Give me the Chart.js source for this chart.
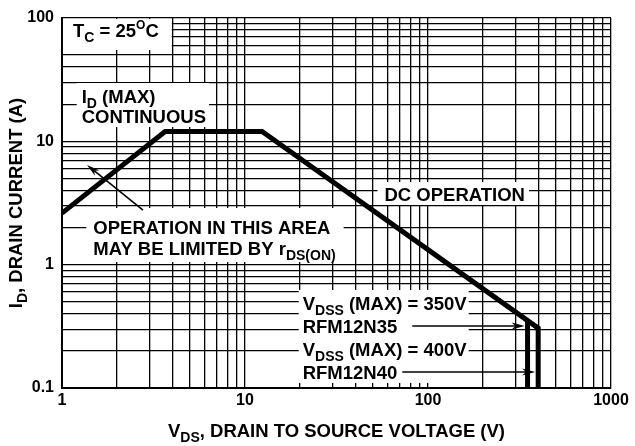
<!DOCTYPE html>
<html>
<head>
<meta charset="utf-8">
<script src="https://cdn.jsdelivr.net/npm/chart.js@4/dist/chart.umd.min.js"></script>
<style>
  html, body { margin: 0; padding: 0; background: #fff; }
</style>
</head>
<body>
<canvas id="soa" width="635" height="446"></canvas>
<script>
// grid lines (log decades) and the labelled ones
const gridVolts = [1, 2, 3, 4, 5, 6, 7, 8, 9, 10, 20, 30, 40, 50, 60, 70, 80, 90,
  100, 200, 300, 400, 500, 600, 700, 800, 900, 1000]
const gridAmps = [0.1, 0.2, 0.3, 0.4, 0.5, 0.6, 0.7, 0.8, 0.9, 1, 2, 3, 4, 5, 6, 7, 8, 9,
  10, 20, 30, 40, 50, 60, 70, 80, 90, 100]
const voltLabels = ['1', '10', '100', '1000']
const ampLabels = ['0.1', '1', '10', '100']

// safe operating area boundary (RFM12N40) and the 350V device cut-off
const soaVolts = [1, 3.66, 12.4, 400, 400]
const soaAmps = [2.62, 12, 12, 0.306, 0.1]
const n35Volts = [350, 350]
const n35Amps = [0.352, 0.1]

const FONT = '"Liberation Sans", Arial, Helvetica, sans-serif'

// text notes, placed in volts / amps; pad = [left, top, right, bottom]
const notes = [
  { x: 1.148, align: 'left', pad: [10, 4, 13, 13], lines: [{ t: 'T_{C} = 25^{O}C', y: 80 }] },
  { x: 1.281, align: 'left', pad: [5, 6, 3, 4], lines: [{ t: 'I_{D} (MAX)', y: 23.3 }, { t: 'CONTINUOUS', y: 16.05 }] },
  { x: 1.483, align: 'left', pad: [7, 12, 8, 7], lines: [
    { t: 'OPERATION IN THIS AREA', y: 2.02 },
    { t: 'MAY BE LIMITED BY r_{DS(ON)}', y: 1.365 }] },
  { x: 140, align: 'center', pad: [7, 5, 4, 4], lines: [{ t: 'DC OPERATION', y: 3.74 }] },
  { x: 162.7, align: 'right', pad: [4, 6, 2, 4], lines: [
    { t: 'V_{DSS} (MAX) = 350V', y: 0.489 },
    { t: 'RFM12N35', y: 0.318, arrowTo: 350, gap: 15 },
    { t: 'V_{DSS} (MAX) = 400V', y: 0.207 },
    { t: 'RFM12N40', y: 0.135, arrowTo: 400, gap: 5 }] }
]
const areaArrow = { from: [2.77, 2.77], to: [1.37, 6.43] }

function parts(t) {
  const out = []
  const re = /([_^])\{([^}]*)\}/g
  let last = 0, m
  while ((m = re.exec(t))) {
    if (m.index > last) out.push([t.slice(last, m.index), 0])
    out.push([m[2], m[1] === '_' ? 1 : -1])
    last = re.lastIndex
  }
  if (last < t.length) out.push([t.slice(last), 0])
  return out
}
function setFont(ctx, k) {
  ctx.font = 'bold ' + (k === 0 ? 18.5 : k === 1 ? 14 : 12) + 'px ' + FONT
}
function richWidth(ctx, t) {
  let w = 0
  for (const [s, k] of parts(t)) { setFont(ctx, k); w += ctx.measureText(s).width }
  return w
}
function drawRich(ctx, t, x, cy) {
  const base = cy + 7
  for (const [s, k] of parts(t)) {
    setFont(ctx, k)
    ctx.fillText(s, x, base + (k === 1 ? 5 : k === -1 ? -8 : 0))
    x += ctx.measureText(s).width
  }
}
function arrow(ctx, x1, y1, x2, y2) {
  const a = Math.atan2(y2 - y1, x2 - x1)
  const c = Math.cos(a), s = Math.sin(a)
  const L = 13, W = 3.5
  ctx.lineWidth = 1.6
  ctx.beginPath()
  ctx.moveTo(x1, y1)
  ctx.lineTo(x2 - L * 0.7 * c, y2 - L * 0.7 * s)
  ctx.stroke()
  ctx.beginPath()
  ctx.moveTo(x2, y2)
  ctx.lineTo(x2 - L * c + W * s, y2 - L * s - W * c)
  ctx.lineTo(x2 - L * 0.7 * c, y2 - L * 0.7 * s)
  ctx.lineTo(x2 - L * c - W * s, y2 - L * s + W * c)
  ctx.closePath()
  ctx.fill()
}

const notesPlugin = {
  id: 'notes',
  beforeDatasetsDraw(chart) {
    const { ctx, scales: { x, y } } = chart
    ctx.save()
    ctx.textAlign = 'left'
    ctx.textBaseline = 'alphabetic'
    notes.forEach(n => {
      const ax = x.getPixelForValue(n.x)
      const widths = n.lines.map(l => richWidth(ctx, l.t))
      const maxW = Math.max(...widths)
      const left = n.align === 'left' ? ax : n.align === 'right' ? ax - maxW : ax - maxW / 2
      const ys = n.lines.map(l => y.getPixelForValue(l.y))
      const [pl, pt, pr, pb] = n.pad
      ctx.fillStyle = '#fff'
      ctx.fillRect(left - pl, ys[0] - 7 - pt, maxW + pl + pr, ys[ys.length - 1] - ys[0] + 14 + pt + pb)
      ctx.fillStyle = '#000'
      n.lines.forEach((l, i) => {
        const lx = n.align === 'center' ? ax - widths[i] / 2 : left
        drawRich(ctx, l.t, lx, ys[i])
        l._end = lx + widths[i]
        l._py = ys[i]
      })
    })
    ctx.restore()
  },
  afterDatasetsDraw(chart) {
    const { ctx, scales: { x, y } } = chart
    ctx.save()
    ctx.strokeStyle = '#000'
    ctx.fillStyle = '#000'
    notes.forEach(n => n.lines.forEach(l => {
      if (l.arrowTo) arrow(ctx, l._end + l.gap, l._py, x.getPixelForValue(l.arrowTo) - 3, l._py)
    }))
    arrow(ctx, x.getPixelForValue(areaArrow.from[0]), y.getPixelForValue(areaArrow.from[1]),
      x.getPixelForValue(areaArrow.to[0]), y.getPixelForValue(areaArrow.to[1]))
    ctx.restore()
  },
  afterDraw(chart) {
    const { ctx, chartArea } = chart
    ctx.save()
    ctx.fillStyle = '#000'
    ctx.textAlign = 'left'
    const xt = 'V_{DS}, DRAIN TO SOURCE VOLTAGE (V)'
    drawRich(ctx, xt, (chartArea.left + chartArea.right) / 2 - richWidth(ctx, xt) / 2, 430)
    const yt = 'I_{D}, DRAIN CURRENT (A)'
    ctx.translate(15, (chartArea.top + chartArea.bottom) / 2)
    ctx.rotate(-Math.PI / 2)
    drawRich(ctx, yt, -richWidth(ctx, yt) / 2, 0)
    ctx.restore()
  }
}

const toPoints = (xs, ys) => xs.map((v, i) => ({ x: v, y: ys[i] }))

const tickFont = { family: FONT, size: 16, weight: 'bold' }

new Chart(document.getElementById('soa'), {
  type: 'line',
  data: {
    datasets: [
      {
        label: 'RFM12N40',
        data: toPoints(soaVolts, soaAmps),
        borderColor: '#000',
        borderWidth: 5,
        pointRadius: 0,
        tension: 0,
        borderJoinStyle: 'miter'
      },
      {
        label: 'RFM12N35',
        data: toPoints(n35Volts, n35Amps),
        borderColor: '#000',
        borderWidth: 5,
        pointRadius: 0
      }
    ]
  },
  options: {
    responsive: false,
    animation: false,
    devicePixelRatio: 1,
    layout: { padding: { top: 18, right: 24, left: 0, bottom: 0 } },
    plugins: {
      legend: { display: false },
      tooltip: { enabled: false }
    },
    scales: {
      x: {
        type: 'logarithmic',
        min: 1,
        max: 1000,
        afterBuildTicks: s => { s.ticks = gridVolts.map(v => ({ value: v })) },
        afterFit: s => { s.height = 58 },
        ticks: {
          autoSkip: false,
          maxRotation: 0,
          padding: 3,
          color: '#000',
          font: tickFont,
          callback: v => voltLabels.includes(String(v)) ? String(v) : ''
        },
        grid: { color: '#000', lineWidth: 1.3, drawTicks: false },
        border: { color: '#000', width: 2 }
      },
      y: {
        type: 'logarithmic',
        min: 0.1,
        max: 100,
        afterBuildTicks: s => { s.ticks = gridAmps.map(v => ({ value: v })) },
        afterFit: s => { s.width = 62 },
        ticks: {
          autoSkip: false,
          padding: 8,
          color: '#000',
          font: tickFont,
          callback: v => ampLabels.includes(String(v)) ? String(v) : ''
        },
        grid: { color: '#000', lineWidth: 1.3, drawTicks: false },
        border: { color: '#000', width: 2 }
      }
    }
  },
  plugins: [notesPlugin]
})
</script>
</body>
</html>
